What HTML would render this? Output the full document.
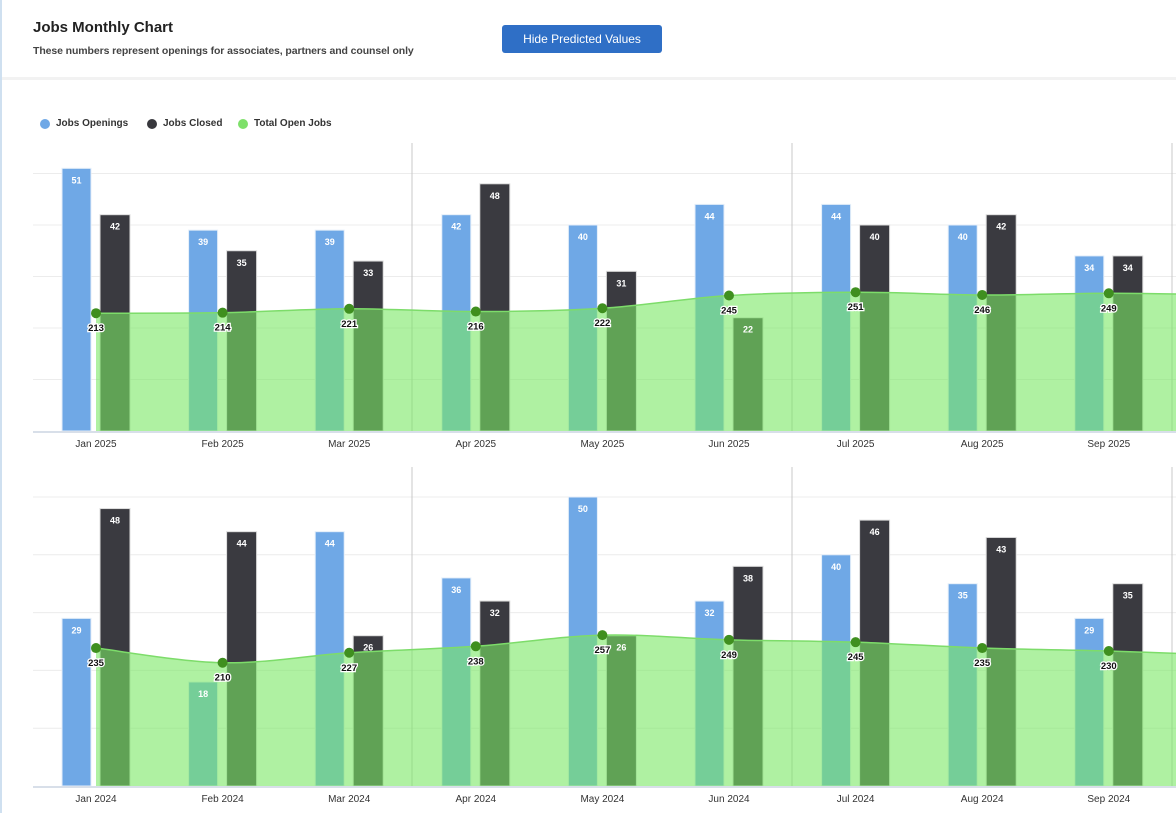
<!DOCTYPE html>
<html><head><meta charset="utf-8">
<style>
body{margin:0;width:1176px;height:813px;overflow:hidden;background:#fff;font-family:"Liberation Sans",sans-serif;position:relative}
.lb{position:absolute;left:0;top:0;width:2px;height:813px;background:#cfe0f0}
h1{position:absolute;left:33px;top:19px;margin:0;font-size:15px;font-weight:bold;color:#222}
.sub{position:absolute;left:33px;top:45px;font-size:10.5px;font-weight:bold;color:#444;letter-spacing:-0.1px}
.btn{position:absolute;left:502px;top:25px;width:160px;height:28px;background:#2f6fc6;border-radius:3px;color:#fff;font-size:12px;line-height:28px;text-align:center}
.sep{position:absolute;left:2px;top:77px;width:1174px;height:3px;background:#f2f2f2}
.leg{position:absolute;top:118px;font-size:10px;font-weight:bold;color:#333;display:flex;align-items:center}
.leg i{display:inline-block;width:10px;height:10px;border-radius:50%;margin-right:6px}
svg{position:absolute;left:0;top:0}
</style></head><body>
<div class="lb"></div>
<h1>Jobs Monthly Chart</h1>
<div class="sub">These numbers represent openings for associates, partners and counsel only</div>
<div class="btn">Hide Predicted Values</div>
<div class="sep"></div>
<div class="leg" style="left:40px"><i style="background:#6fa8e6"></i>Jobs Openings</div>
<div class="leg" style="left:147px"><i style="background:#38383d"></i>Jobs Closed</div>
<div class="leg" style="left:238px"><i style="background:#7ee06a"></i>Total Open Jobs</div>
<svg id="svg" width="1176" height="813"></svg>
<script>
const catsTop=["Jan 2025","Feb 2025","Mar 2025","Apr 2025","May 2025","Jun 2025","Jul 2025","Aug 2025","Sep 2025"];
const openTop=[51,39,39,42,40,44,44,40,34];
const closedTop=[42,35,33,48,31,22,40,42,34];
const totalTop=[213,214,221,216,222,245,251,246,249];
const nextTotalTop=246;
const catsBot=["Jan 2024","Feb 2024","Mar 2024","Apr 2024","May 2024","Jun 2024","Jul 2024","Aug 2024","Sep 2024"];
const openBot=[29,18,44,36,50,32,40,35,29];
const closedBot=[48,44,26,32,26,38,46,43,35];
const totalBot=[235,210,227,238,257,249,245,235,230];
const nextTotalBot=222;

const NS="http://www.w3.org/2000/svg";
const svg=document.getElementById('svg');
function mk(tag,attrs,parent){const e=document.createElementNS(NS,tag);for(const k in attrs)e.setAttribute(k,attrs[k]);(parent||svg).appendChild(e);return e;}

function chart(cfg,cats,open,closed,total,nextT){
  const g=mk('g',{});
  
  
  const x=i=>96+i*126.6;
  const yb=v=>cfg.base-v*cfg.barPx;
  const ya=v=>cfg.base-v*cfg.areaPx;
  for(let k=1;k<=5;k++){const gy=yb(k*10);
    const l=mk('line',{x1:33,x2:1176,y1:gy,y2:gy,stroke:'#ececec','stroke-width':1},g);
    
    }
  [412,792,1172].forEach(sx=>{const l=mk('line',{x1:sx,x2:sx,y1:cfg.top,y2:cfg.base,stroke:'#c8c8c8','stroke-width':1},g);
    
    });
  cats.forEach((c,i)=>{
    const r1=mk('rect',{x:x(i)-34,y:yb(open[i]),width:29,height:open[i]*cfg.barPx,fill:'#6fa8e6',stroke:'#e4eef9','stroke-width':1},g);
    
    
    const r2=mk('rect',{x:x(i)+4,y:yb(closed[i]),width:30,height:closed[i]*cfg.barPx,fill:'#3a3a40',stroke:'#dcdcdc','stroke-width':1},g);
    
    
  });
  const pts=total.map((v,i)=>[x(i),ya(v)]);
  pts.push([x(9),ya(nextT)]);
  let d='M'+pts[0][0]+','+pts[0][1];
  for(let i=0;i<pts.length-1;i++){const p0=pts[i-1]||pts[i],p1=pts[i],p2=pts[i+1],p3=pts[i+2]||p2;
    const c1x=p1[0]+(p2[0]-p0[0])/6,c1y=p1[1]+(p2[1]-p0[1])/6,c2x=p2[0]-(p3[0]-p1[0])/6,c2y=p2[1]-(p3[1]-p1[1])/6;
    d+=` C${c1x},${c1y} ${c2x},${c2y} ${p2[0]},${p2[1]}`;}
  const area=mk('path',{d:d+` L${pts[pts.length-1][0]},${cfg.base} L${pts[0][0]},${cfg.base} Z`,fill:'rgb(122,232,100)','fill-opacity':0.6},g);
  
  
  const ln=mk('path',{d:d,fill:'none',stroke:'#7ddc6a','stroke-width':1.5},g);
  
  
  const base=mk('line',{x1:33,x2:1176,y1:cfg.base+1,y2:cfg.base+1,stroke:'#d8dfe9','stroke-width':2},g);
  
  
  cats.forEach((c,i)=>{
    const t1=mk('text',{x:x(i)-19.5,y:yb(open[i])+15,'text-anchor':'middle','font-size':9,'font-weight':'bold',fill:'#fff'},g);
    t1.textContent=open[i];
    
    
    const t2=mk('text',{x:x(i)+19,y:yb(closed[i])+15,'text-anchor':'middle','font-size':9,'font-weight':'bold',fill:'#fff'},g);
    t2.textContent=closed[i];
    
    
    const dot=mk('circle',{cx:x(i),cy:ya(total[i]),r:5,fill:'#3f8f1f'},g);
    
    
    const t3=mk('text',{x:x(i),y:ya(total[i])+18,'text-anchor':'middle','font-size':9.5,'font-weight':'bold',fill:'#111',stroke:'#fff','stroke-width':2.5,'paint-order':'stroke'},g);
    t3.textContent=total[i];
    
    
    const t4=mk('text',{x:x(i),y:cfg.base+16,'text-anchor':'middle','font-size':10,fill:'#333'},g);
    t4.textContent=c;
    
    
  });
}
chart({name:'chart-2025',base:431,top:143,barPx:5.15,areaPx:0.553},catsTop,openTop,closedTop,totalTop,nextTotalTop);
chart({name:'chart-2024',base:786,top:467,barPx:5.78,areaPx:0.587},catsBot,openBot,closedBot,totalBot,nextTotalBot);
</script>
</body></html>
